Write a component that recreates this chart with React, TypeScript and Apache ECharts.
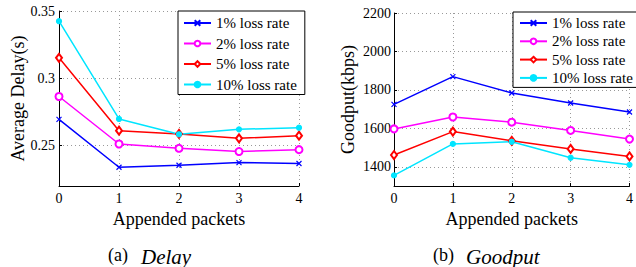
import React, { useEffect, useRef } from "react";
import * as echarts from "echarts";

const xLabels = ["0", "1", "2", "3", "4"];
const seriesNames = ["1% loss rate", "2% loss rate", "5% loss rate", "10% loss rate"];
const delay1 = [0.2695, 0.2339, 0.2354, 0.2374, 0.2367];
const delay2 = [0.2865, 0.2512, 0.248, 0.2456, 0.247];
const delay5 = [0.3152, 0.2611, 0.2587, 0.2554, 0.2574];
const delay10 = [0.3424, 0.2698, 0.2584, 0.2621, 0.2633];
const good1 = [1725, 1869, 1784, 1732, 1685];
const good2 = [1597, 1659, 1632, 1589, 1544];
const good5 = [1461, 1583, 1535, 1493, 1454];
const good10 = [1355, 1519, 1530, 1447, 1410];
const delayTicks = [0.25, 0.3, 0.35];
const goodTicks = [1400, 1600, 1800, 2000, 2200];

const colors = ["#0000ff", "#ff00ff", "#ff0000", "#00e5ff"];
const symbols = ["path://M0,0L10,10M10,0L0,10", "emptyCircle", "emptyDiamond", "circle"];
const symbolSizes = [5, 7, [6, 8], 5];
const FONT = "Liberation Serif";

export default function App() {
  const ref = useRef<HTMLDivElement>(null);
  useEffect(() => {
    document.body.style.margin = "0";
    const chart = echarts.init(ref.current!, null, { renderer: "svg" });

    const mkSeries = (datas: number[][], idx: number) =>
      datas.map((d, i) => ({
        name: seriesNames[i],
        type: "line",
        xAxisIndex: idx,
        yAxisIndex: idx,
        data: d,
        symbol: symbols[i],
        symbolSize: symbolSizes[i],
        showSymbol: true,
        lineStyle: { color: colors[i], width: 1.5 },
        itemStyle: { color: colors[i], borderColor: colors[i], borderWidth: 1.2 },
        emphasis: { disabled: true },
      }));

    const xAxis = (gi: number) => ({
      type: "category",
      gridIndex: gi,
      data: xLabels,
      boundaryGap: false,
      name: "Appended packets",
      nameLocation: "middle",
      nameGap: 19,
      nameTextStyle: { fontFamily: FONT, fontSize: 18, color: "#000" },
      axisLine: { lineStyle: { color: "#000", width: 1 } },
      axisTick: { inside: true, length: 3, lineStyle: { color: "#000" } },
      axisLabel: { fontFamily: FONT, fontSize: 14, color: "#000", margin: 5 },
      splitLine: { show: true, lineStyle: { color: "#999", type: [1, 3], width: 1 } },
    });

    const yAxis = (gi: number, min: number, max: number, ticks: number[], name: string, gap: number, margin: number) => ({
      type: "value",
      gridIndex: gi,
      min,
      max,
      name,
      nameLocation: "middle",
      nameGap: gap,
      nameTextStyle: { fontFamily: FONT, fontSize: 18, color: "#000" },
      axisLine: { show: true, lineStyle: { color: "#000", width: 1 } },
      axisTick: { show: true, inside: true, length: 3, lineStyle: { color: "#000" }, customValues: ticks },
      axisLabel: {
        fontFamily: FONT,
        fontSize: 14,
        color: "#000",
        margin,
        customValues: ticks,
        formatter: (v: number) => String(v),
      },
      splitLine: { show: true, lineStyle: { color: "#999", type: [1, 3], width: 1 } },
    });

    const legend = (left: number, top: number, lh: number, gap: number, pad: number[]) => ({
      orient: "vertical",
      left,
      top,
      data: seriesNames,
      itemWidth: 27,
      itemHeight: 7,
      itemGap: gap,
      padding: pad,
      borderColor: "#000",
      borderWidth: 1,
      borderRadius: 0,
      backgroundColor: "#fff",
      textStyle: { fontFamily: FONT, fontSize: 15, color: "#000", lineHeight: lh },
      selectedMode: false,
    });

    const txt = (x: number, text: string, italic: boolean, size: number) => ({
      type: "text",
      x,
      y: 246,
      style: italic
        ? { text, fontFamily: FONT, fontSize: size, fontStyle: "italic", fill: "#000" }
        : { text, fontFamily: FONT, fontSize: size, fill: "#000" },
    });

    chart.setOption({
      animation: false,
      textStyle: { fontFamily: FONT },
      grid: [
        { left: 59, top: 11, width: 240, height: 175 },
        { left: 394, top: 13, width: 240, height: 173 },
      ],
      xAxis: [xAxis(0), xAxis(1)],
      yAxis: [
        yAxis(0, 0.22, 0.35, delayTicks, "Average Delay(s)", 32, 4),
        yAxis(1, 1300, 2200, goodTicks, "Goodput(kbps)", 37, 3),
      ],
      legend: [legend(178, 11, 16, 4.5, [4, 8, 2, 5]), legend(513, 12, 15, 3.3, [3.5, 6, 2, 6])],
      graphic: [
        txt(108, "(a)", false, 18),
        txt(141, "Delay", true, 21),
        txt(433, "(b)", false, 18),
        txt(466, "Goodput", true, 21),
      ],
      series: [
        ...mkSeries([delay1, delay2, delay5, delay10], 0),
        ...mkSeries([good1, good2, good5, good10], 1),
      ],
    });
    return () => chart.dispose();
  }, []);
  return (
    <>
      <style>{`#root svg text { font-family: "Liberation Serif", serif !important; }`}</style>
      <div ref={ref} style={{ width: 636, height: 267 }} />
    </>
  );
}
